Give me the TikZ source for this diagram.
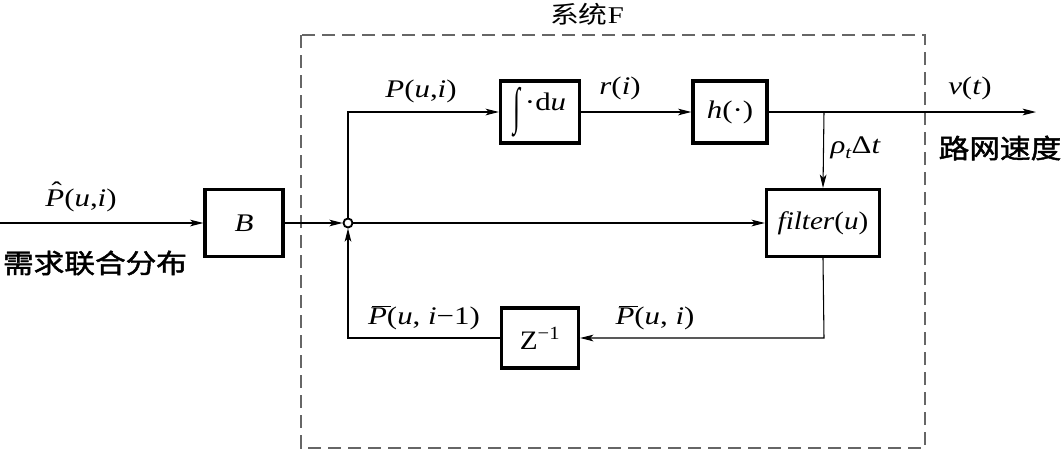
\documentclass[tikz,border=0pt]{standalone}
\usepackage{fontspec}
\newfontfamily\cjk{Noto Sans CJK SC}
\newfontfamily\cjkb[FakeBold=1.6]{Noto Sans CJK SC}
\setmainfont{Liberation Serif}
\usetikzlibrary{arrows.meta}
\newcommand{\ii}[1]{\textit{#1}}
\newcommand{\hs}[1]{\scalebox{1.22}[1]{#1}}
\newcommand{\ovP}{\rlap{\hspace{0.12em}\rule[0.72em]{0.62em}{0.7pt}}\textit{P}}
\newcommand{\hatP}{\rlap{\hspace{0.2em}\raisebox{0.28em}{ˆ}}\textit{P}}
\tikzset{
  blk/.style={draw, line width=2.4pt, inner sep=0pt, font=\fontsize{19}{22}\selectfont},
  con/.style={line width=0.8pt},
  arr/.style={con, -{Stealth[length=10pt,width=5pt,inset=2.5pt]}},
  lbl/.style={font=\fontsize{19}{22}\selectfont, inner sep=1pt},
  cn/.style={font=\fontsize{20}{24}\selectfont\cjkb, inner sep=1pt},
}
\begin{document}
\begin{tikzpicture}[x=0.75pt,y=-0.75pt]
\useasboundingbox (0,0) rectangle (1061,451);
% system box
\draw[dashed, dash pattern=on 10pt off 5pt, line width=0.9pt, gray!80!black] (301,35) rectangle (925,448);
\node[font=\fontsize{18}{21}\selectfont, inner sep=0pt] (title) at (587,14) {\scalebox{1.2}[1]{{\cjk 系统}F}};
% blocks
\node[blk, minimum width={78*0.75pt}, minimum height={67*0.75pt}] (B) at (244,223) {\hs{\ii{B}}};
\node[blk, minimum width={79*0.75pt}, minimum height={62*0.75pt}] (int) at (540,112) {\raisebox{-0.5em}{\scalebox{1.0}[2.0]{∫}}\,\hs{·d\ii{u}}};
\node[blk, minimum width={74*0.75pt}, minimum height={62*0.75pt}] (h) at (730,112) {\hs{\ii{h}(·)}};
\node[blk, minimum width={113*0.75pt}, minimum height={67*0.75pt}] (filt) at (823,223) {\scalebox{1.15}[1]{\ii{filter}(\ii{u})}};
\node[blk, minimum width={77*0.75pt}, minimum height={60*0.75pt}, font=\fontsize{20}{24}\selectfont] (Z) at (540,338) {\scalebox{1.1}[1]{Z\textsuperscript{−1}}};
\node[draw, circle, line width=1.4pt, minimum size={9*0.75pt}, inner sep=0pt] (j) at (348,223) {};
% coordinates
\coordinate (in) at (0,223);
\coordinate (out) at (1036,112);
\coordinate (tl) at (348,112);
\coordinate (br) at (824,112);
\coordinate (fb) at (824,338);
\coordinate (bl) at (348,338);
% connectors
\draw[arr] (in) -- (B.west);
\draw[arr] (B.east) -- (j.west);
\draw[arr] (j.east) -- (filt.west);
\draw[arr] (j.north) -- (tl) -- (int.west);
\draw[arr] (int.east) -- (h.west);
\draw[arr] (h.east) -- (out);
\draw[arr] (br) -- (filt.north);
\draw[arr] (filt.south) -- (fb) -- (Z.east);
\draw[arr] (Z.west) -- (bl) -- (j.south);
% labels
\node[lbl] (l1) at (81,197) {\hs{\hatP(\ii{u},\ii{i})}};
\node[cn] (c1) at (95,263) {\scalebox{1.15}[1]{需求联合分布}};
\node[lbl] (l2) at (421,91) {\hs{\ii{P}(\ii{u},\ii{i})}};
\node[lbl] (l3) at (620,88) {\hs{\ii{r}(\ii{i})}};
\node[lbl] (l4) at (970,88) {\hs{\ii{v}(\ii{t})}};
\node[cn] (c2) at (1000,148) {\scalebox{1.15}[1]{路网速度}};
\node[lbl, anchor=west] (l5) at (829,148) {\hs{\ii{ρ}\raisebox{-0.4ex}{\fontsize{13}{15}\selectfont\ii{t}}Δ\ii{t}}};
\node[lbl] (l6) at (424,318) {\hs{\ovP(\ii{u}, \ii{i}−1)}};
\node[lbl] (l7) at (655,318) {\hs{\ovP(\ii{u}, \ii{i})}};
\end{tikzpicture}
\end{document}
